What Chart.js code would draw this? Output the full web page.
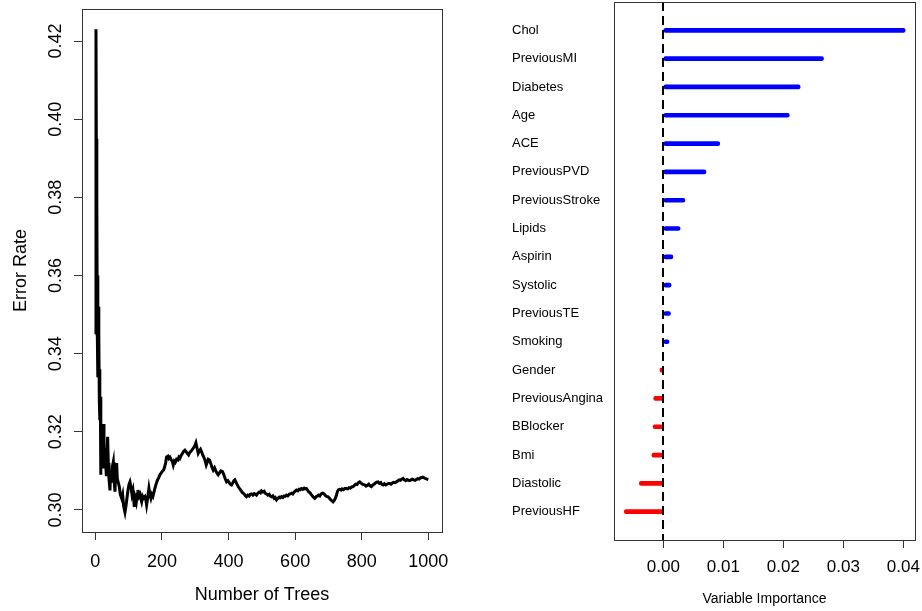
<!DOCTYPE html>
<html>
<head>
<meta charset="utf-8">
<script src="https://cdn.jsdelivr.net/npm/chart.js@4.4.1/dist/chart.umd.min.js"></script>
<style>
  html, body { margin: 0; padding: 0; background: #fff; }
  #wrap { position: relative; width: 922px; height: 611px; }
  #errChart { position: absolute; left: 0; top: 0; }
  #impChart { position: absolute; left: 460px; top: 0; }
</style>
</head>
<body>
<div id="wrap">
  <canvas id="errChart" width="460" height="611"></canvas>
  <canvas id="impChart" width="462" height="611"></canvas>
</div>
<script>
// OOB error rate (tree count, error)
var trees = [1, 2, 3, 4, 5, 6, 7, 8, 9, 10, 11, 12, 13, 14, 15, 16, 17, 18, 20, 22,
  24, 26, 27, 29, 31, 33, 35, 37, 39, 41, 44, 46, 48, 51, 54, 56, 59, 61, 64, 66,
  69, 72, 75, 79, 82, 85, 89, 92, 95, 98, 101, 104, 107, 110, 113, 117, 120, 123, 126, 128,
  131, 134, 136, 139, 142, 145, 149, 152, 154, 157, 161, 164, 167, 170, 173, 176, 179, 182, 186, 190,
  194, 198, 202, 205, 208, 211, 214, 218, 221, 224, 228, 231, 234, 237, 240, 244, 248, 251, 254, 258,
  262, 265, 269, 272, 276, 280, 283, 287, 290, 294, 298, 302, 305, 309, 312, 316, 319, 323, 326, 329,
  333, 336, 339, 343, 347, 350, 354, 358, 362, 365, 369, 373, 377, 382, 386, 390, 394, 398, 402, 405,
  409, 413, 416, 419, 423, 426, 429, 433, 437, 441, 444, 448, 451, 454, 458, 462, 465, 469, 473, 477,
  481, 484, 488, 492, 496, 499, 503, 507, 510, 514, 518, 522, 525, 529, 533, 537, 540, 544, 548, 552,
  555, 559, 563, 567, 570, 574, 578, 582, 585, 589, 593, 597, 600, 604, 608, 612, 615, 619, 623, 627,
  630, 634, 638, 641, 644, 648, 652, 655, 659, 663, 667, 670, 674, 678, 681, 684, 688, 692, 695, 699,
  703, 707, 710, 714, 718, 721, 724, 727, 730, 734, 738, 741, 745, 749, 754, 758, 762, 766, 770, 774,
  778, 782, 786, 790, 794, 798, 802, 806, 809, 813, 817, 821, 825, 829, 833, 837, 841, 845, 849, 853,
  857, 860, 864, 868, 872, 876, 880, 884, 888, 892, 896, 900, 904, 908, 912, 916, 920, 924, 928, 932,
  936, 940, 944, 948, 952, 956, 960, 964, 968, 972, 976, 980, 984, 988, 992, 996, 1000];
var errorRate = [0.3450, 0.4230, 0.3950, 0.3500, 0.3800, 0.3445, 0.3600, 0.3340, 0.3520, 0.3350, 0.3440, 0.3280, 0.3360, 0.3230, 0.3290, 0.3090, 0.3150, 0.3110, 0.3180, 0.3140,
  0.3220, 0.3130, 0.3110, 0.3160, 0.3120, 0.3090, 0.3150, 0.3187, 0.3120, 0.3080, 0.3050, 0.3100, 0.3070, 0.3110, 0.3123, 0.3080, 0.3047, 0.3090, 0.3120, 0.3080,
  0.3070, 0.3060, 0.3040, 0.3030, 0.3040, 0.3010, 0.2994, 0.3010, 0.3030, 0.3050, 0.3065, 0.3072, 0.3060, 0.3040, 0.3050, 0.3008, 0.3030, 0.3020, 0.3040, 0.3051,
  0.3035, 0.3040, 0.3030, 0.3021, 0.3035, 0.3030, 0.3034, 0.3025, 0.3013, 0.3030, 0.3056, 0.3040, 0.3030, 0.3040, 0.3035, 0.3045, 0.3056, 0.3065, 0.3075, 0.3082,
  0.3090, 0.3095, 0.3100, 0.3102, 0.3110, 0.3120, 0.3136, 0.3138, 0.3132, 0.3135, 0.3128, 0.3125, 0.3115, 0.3125, 0.3122, 0.3130, 0.3128, 0.3135, 0.3132, 0.3140,
  0.3145, 0.3150, 0.3153, 0.3150, 0.3145, 0.3141, 0.3147, 0.3150, 0.3153, 0.3158, 0.3163, 0.3172, 0.3160, 0.3145, 0.3150, 0.3155, 0.3149, 0.3140, 0.3135, 0.3128,
  0.3115, 0.3122, 0.3130, 0.3128, 0.3118, 0.3110, 0.3102, 0.3108, 0.3100, 0.3095, 0.3090, 0.3095, 0.3100, 0.3098, 0.3090, 0.3080, 0.3072, 0.3075, 0.3070, 0.3066,
  0.3064, 0.3070, 0.3075, 0.3077, 0.3070, 0.3065, 0.3060, 0.3055, 0.3050, 0.3045, 0.3043, 0.3040, 0.3036, 0.3034, 0.3038, 0.3036, 0.3040, 0.3041, 0.3038, 0.3042,
  0.3040, 0.3038, 0.3043, 0.3046, 0.3044, 0.3049, 0.3046, 0.3048, 0.3043, 0.3041, 0.3038, 0.3040, 0.3036, 0.3034, 0.3036, 0.3030, 0.3032, 0.3026, 0.3030, 0.3033,
  0.3031, 0.3034, 0.3032, 0.3036, 0.3035, 0.3038, 0.3036, 0.3040, 0.3041, 0.3043, 0.3041, 0.3046, 0.3048, 0.3051, 0.3049, 0.3053, 0.3052, 0.3055, 0.3053, 0.3056,
  0.3054, 0.3055, 0.3050, 0.3046, 0.3045, 0.3040, 0.3036, 0.3033, 0.3030, 0.3034, 0.3036, 0.3038, 0.3036, 0.3041, 0.3043, 0.3043, 0.3040, 0.3036, 0.3035, 0.3034,
  0.3030, 0.3026, 0.3024, 0.3021, 0.3025, 0.3030, 0.3038, 0.3047, 0.3052, 0.3053, 0.3051, 0.3054, 0.3052, 0.3055, 0.3055, 0.3054, 0.3057, 0.3056, 0.3059, 0.3060,
  0.3063, 0.3066, 0.3065, 0.3070, 0.3072, 0.3069, 0.3066, 0.3065, 0.3064, 0.3061, 0.3063, 0.3066, 0.3062, 0.3060, 0.3064, 0.3066, 0.3069, 0.3071, 0.3072, 0.3068,
  0.3070, 0.3066, 0.3064, 0.3067, 0.3064, 0.3066, 0.3068, 0.3068, 0.3066, 0.3069, 0.3071, 0.3070, 0.3072, 0.3074, 0.3077, 0.3076, 0.3079, 0.3081, 0.3077, 0.3075,
  0.3078, 0.3076, 0.3075, 0.3077, 0.3079, 0.3077, 0.3076, 0.3078, 0.3080, 0.3079, 0.3082, 0.3083, 0.3084, 0.3082, 0.3080, 0.3079, 0.3078];

var treeTicks = [0, 200, 400, 600, 800, 1000];
var errTicks = [0.30, 0.32, 0.34, 0.36, 0.38, 0.40, 0.42];

// variable importance, top to bottom
var variables = ['Chol', 'PreviousMI', 'Diabetes', 'Age', 'ACE', 'PreviousPVD', 'PreviousStroke', 'Lipids', 'Aspirin',
  'Systolic', 'PreviousTE', 'Smoking', 'Gender', 'PreviousAngina', 'BBlocker', 'Bmi', 'Diastolic', 'PreviousHF'];
var importance = [0.0403, 0.0267, 0.0228, 0.0210, 0.0094, 0.0071, 0.0036, 0.0028, 0.0016,
  0.0013, 0.0012, 0.00095, -0.00055, -0.0016, -0.0017, -0.0019, -0.0040, -0.0065];
var impTicks = [0, 0.01, 0.02, 0.03, 0.04];

Chart.defaults.color = '#000';
Chart.defaults.font.family = '"Liberation Sans", Arial, Helvetica, sans-serif';

var boxPlugin = {
  id: 'box',
  afterDraw: function(chart) {
    var a = chart.chartArea, ctx = chart.ctx;
    ctx.save();
    ctx.strokeStyle = '#333';
    ctx.lineWidth = 1;
    ctx.strokeRect(Math.round(a.left) + 0.5, Math.round(a.top) + 0.5,
      Math.round(a.right - a.left), Math.round(a.bottom - a.top));
    ctx.restore();
  }
};

function fixedTicks(list) {
  return function(scale) {
    scale.ticks = list.map(function(v) { return { value: v }; });
  };
}

// fixed axis size, and no extra room asked for overflowing labels
function fixedSize(px) {
  return function(scale) {
    if (scale.isHorizontal()) scale.height = px; else scale.width = px;
    scale.paddingTop = 0; scale.paddingBottom = 0;
    scale.paddingLeft = 0; scale.paddingRight = 0;
  };
}

new Chart(document.getElementById('errChart'), {
  type: 'scatter',
  data: {
    datasets: [{
      data: trees.map(function(t, i) { return { x: t, y: errorRate[i] }; }),
      showLine: true,
      borderColor: '#000',
      borderWidth: 3,
      pointRadius: 0,
      tension: 0
    }]
  },
  options: {
    responsive: false,
    animation: false,
    layout: { padding: { left: 0, top: 9, right: 18, bottom: 0 } },
    plugins: { legend: { display: false }, tooltip: { enabled: false } },
    scales: {
      x: {
        type: 'linear',
        min: -40,
        max: 1041,
        afterBuildTicks: fixedTicks(treeTicks),
        afterFit: fixedSize(79),
        grid: { drawOnChartArea: false, drawTicks: true, tickLength: 8, color: '#333' },
        border: { display: false },
        ticks: { font: { size: 18 }, padding: 11, autoSkip: false, maxRotation: 0,
          callback: function(v) { return String(v); } },
        title: { display: true, text: 'Number of Trees', font: { size: 18 }, padding: { top: 0, bottom: 5 } }
      },
      y: {
        min: 0.29437,
        max: 0.42819,
        afterBuildTicks: fixedTicks(errTicks),
        afterFit: fixedSize(82),
        grid: { drawOnChartArea: false, drawTicks: true, tickLength: 8, color: '#333' },
        border: { display: false },
        ticks: {
          font: { size: 18 }, padding: 0, autoSkip: false,
          minRotation: 90, maxRotation: 90, crossAlign: 'center',
          callback: function(v) { return v.toFixed(2); }
        },
        title: { display: true, text: 'Error Rate', font: { size: 18 }, padding: { top: 10, bottom: 0 } }
      }
    }
  },
  plugins: [boxPlugin]
});

var zeroLine = {
  id: 'zeroLine',
  afterDatasetsDraw: function(chart) {
    var a = chart.chartArea, ctx = chart.ctx;
    var x = Math.round(chart.scales.x.getPixelForValue(0));
    ctx.save();
    ctx.strokeStyle = '#000';
    ctx.lineWidth = 2;
    ctx.setLineDash([9, 5]);
    ctx.beginPath();
    ctx.moveTo(x, a.top);
    ctx.lineTo(x, a.bottom);
    ctx.stroke();
    ctx.restore();
  }
};

new Chart(document.getElementById('impChart'), {
  type: 'bar',
  data: {
    datasets: [{
      data: importance.map(function(v, i) { return { x: v, y: i + 1 }; }),
      backgroundColor: importance.map(function(v) { return v >= 0 ? '#0000ff' : '#ff0000'; }),
      barThickness: 4,
      borderRadius: 2,
      borderSkipped: false
    }]
  },
  options: {
    indexAxis: 'y',
    responsive: false,
    animation: false,
    layout: { padding: { left: 52, top: 2, right: 7, bottom: 0 } },
    plugins: { legend: { display: false }, tooltip: { enabled: false } },
    scales: {
      x: {
        type: 'linear',
        min: -0.008217,
        max: 0.04195,
        afterBuildTicks: fixedTicks(impTicks),
        afterFit: fixedSize(71),
        grid: { drawOnChartArea: false, drawTicks: true, tickLength: 8, color: '#333' },
        border: { display: false },
        ticks: { font: { size: 17 }, padding: 9, autoSkip: false, maxRotation: 0,
          callback: function(v) { return v.toFixed(2); } },
        title: { display: true, text: 'Variable Importance', font: { size: 14 }, padding: { top: 0, bottom: 3 } }
      },
      y: {
        type: 'linear',
        reverse: true,
        offset: false,
        min: 0,
        max: 19,
        afterBuildTicks: fixedTicks(variables.map(function(v, i) { return i + 1; })),
        afterFit: fixedSize(102),
        grid: { display: false, drawTicks: false, offset: false },
        border: { display: false },
        ticks: { font: { size: 13 }, crossAlign: 'far', padding: 0, autoSkip: false,
          callback: function(v) { return variables[v - 1]; } }
      }
    }
  },
  plugins: [zeroLine, boxPlugin]
});
</script>
</body>
</html>
